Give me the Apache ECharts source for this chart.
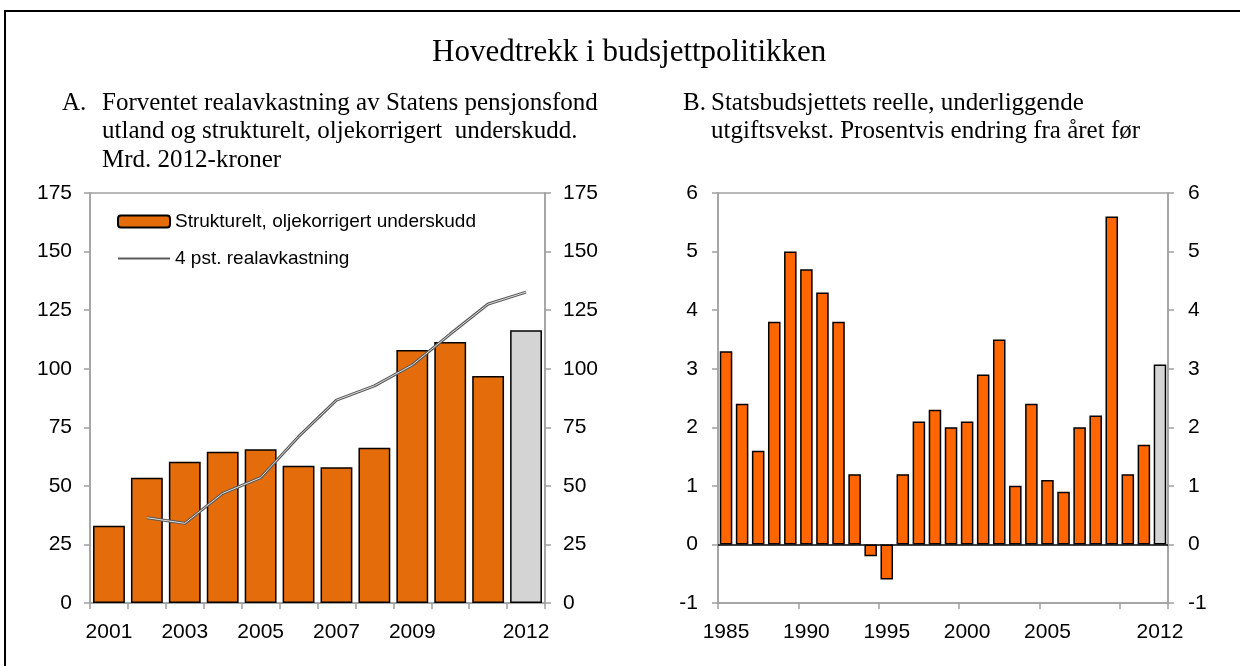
<!DOCTYPE html>
<html>
<head>
<meta charset="utf-8">
<script src="https://cdn.jsdelivr.net/npm/echarts@6/dist/echarts.min.js"></script>
<style>
  html, body { margin: 0; padding: 0; background: #fff; }
  #chart { width: 1240px; height: 666px; }
</style>
</head>
<body>
<div id="chart"></div>
<script>
// panel A: mrd. 2012-kroner
const yearsA = ['2001', '2002', '2003', '2004', '2005', '2006', '2007', '2008', '2009', '2010', '2011', '2012']
const underskudd = [33.0, 53.5, 60.3, 64.6, 65.6, 58.6, 57.9, 66.3, 108, 111.4, 96.9, 116.4]
const realavkastning = [null, 36.4, 34.0, 46.8, 53.5, 71, 86.6, 92.7, 101.6, 114.8, 127.6, 132.7]

// panel B: prosentvis endring
const yearsB = ['1985', '1986', '1987', '1988', '1989', '1990', '1991', '1992', '1993', '1994',
  '1995', '1996', '1997', '1998', '1999', '2000', '2001', '2002', '2003', '2004',
  '2005', '2006', '2007', '2008', '2009', '2010', '2011', '2012']
const utgiftsvekst = [3.3, 2.4, 1.6, 3.8, 5.0, 4.7, 4.3, 3.8, 1.2, -0.2,
  -0.6, 1.2, 2.1, 2.3, 2.0, 2.1, 2.9, 3.5, 1.0, 2.4,
  1.1, 0.9, 2.0, 2.2, 5.6, 1.2, 1.7, 3.07]

const labelsA = [0, 2, 4, 6, 8, 11]
const labelsB = [0, 5, 10, 15, 20, 27]

const SANS = "'Liberation Sans', Arial, sans-serif"
const SERIF = "'Liberation Serif', 'Times New Roman', serif"
const AXIS = '#a0a0a0'
const GREY = '#d4d4d4'

// siste år (anslag) i grått
const markLast = (arr) => arr.map((v, i) => i === arr.length - 1 ? { value: v, itemStyle: { color: GREY } } : v)

const chart = echarts.init(document.getElementById('chart'))

const catAxis = (idx, data, labels, tickFn) => ({
  type: 'category',
  gridIndex: idx,
  data: data,
  boundaryGap: true,
  axisLine: { onZero: false, lineStyle: { color: AXIS, width: 1.5 } },
  axisTick: { show: true, length: 6, interval: tickFn, lineStyle: { color: AXIS, width: 1.5 } },
  axisLabel: {
    interval: (i) => labels.includes(i),
    margin: 19, color: '#000', fontSize: 21, fontFamily: SANS,
  },
})

const valAxis = (idx, pos, min, max, step, margin) => ({
  type: 'value',
  gridIndex: idx,
  position: pos,
  min: min, max: max, interval: step,
  splitLine: { show: false },
  axisLine: { show: true, lineStyle: { color: AXIS, width: 1.5 } },
  axisTick: { show: true, length: 6, lineStyle: { color: AXIS, width: 1.5 } },
  axisLabel: { color: '#000', fontSize: 21, fontFamily: SANS, margin: margin },
})

const sub = { fontFamily: SERIF, fontSize: 25, fontWeight: 'normal', color: '#000', lineHeight: 28.5 }

chart.setOption({
  animation: false,
  graphic: [{
    type: 'rect',
    shape: { x: 5, y: 11, width: 1260, height: 680 },
    style: { fill: 'none', stroke: '#000', lineWidth: 2 },
    silent: true,
  }],
  title: [
    { text: 'Hovedtrekk i budsjettpolitikken', left: 427, top: 32,
      textStyle: { fontFamily: SERIF, fontSize: 31, fontWeight: 'normal', color: '#000' } },
    { text: 'A.', left: 57, top: 84, textStyle: sub },
    { text: 'Forventet realavkastning av Statens pensjonsfond\nutland og strukturelt, oljekorrigert  underskudd.\nMrd. 2012-kroner',
      left: 97, top: 84, textStyle: sub },
    { text: 'B.', left: 678, top: 84, textStyle: sub },
    { text: 'Statsbudsjettets reelle, underliggende\nutgiftsvekst. Prosentvis endring fra året før',
      left: 706, top: 84, textStyle: sub },
  ],
  legend: {
    data: [
      'Strukturelt, oljekorrigert underskudd',
      { name: '4 pst. realavkastning', itemStyle: { opacity: 0 } },
    ],
    orient: 'vertical',
    left: 112, top: 207,
    itemWidth: 52, itemHeight: 12, itemGap: 18,
    textStyle: { color: '#000', fontSize: 19, fontFamily: SANS },
  },
  grid: [
    { left: 90, top: 193, width: 455, height: 410, show: true, borderColor: AXIS, borderWidth: 1.5 },
    { left: 718, top: 193, width: 450, height: 410, show: true, borderColor: AXIS, borderWidth: 1.5 },
  ],
  xAxis: [
    catAxis(0, yearsA, labelsA, 0),
    catAxis(1, yearsB, labelsB, (i) => i % 5 === 0),
  ],
  yAxis: [
    valAxis(0, 'left', 0, 175, 25, 18),
    valAxis(0, 'right', 0, 175, 25, 18),
    valAxis(1, 'left', -1, 6, 1, 20),
    valAxis(1, 'right', -1, 6, 1, 20),
  ],
  series: [
    {
      name: 'Strukturelt, oljekorrigert underskudd',
      type: 'bar', xAxisIndex: 0, yAxisIndex: 0,
      data: markLast(underskudd),
      barCategoryGap: '16%',
      itemStyle: { color: '#e46c0a', borderColor: '#000', borderWidth: 1.5 },
    },
    {
      name: '4 pst. realavkastning',
      type: 'line', xAxisIndex: 0, yAxisIndex: 0,
      data: realavkastning,
      symbol: 'none',
      lineStyle: { color: '#5a5a5a', width: 3 },
      itemStyle: { color: '#5a5a5a' },
    },
    {
      name: 'realavkastning-kjerne',
      type: 'line', xAxisIndex: 0, yAxisIndex: 0,
      data: realavkastning,
      symbol: 'none',
      lineStyle: { color: '#dcdcdc', width: 1 },
    },
    {
      name: 'Utgiftsvekst',
      type: 'bar', xAxisIndex: 1, yAxisIndex: 2,
      data: markLast(utgiftsvekst),
      barCategoryGap: '22%',
      itemStyle: { color: '#ff6600', borderColor: '#000', borderWidth: 1.5 },
      markLine: {
        silent: true, symbol: 'none', label: { show: false },
        lineStyle: { color: '#000', width: 1.5, type: 'solid' },
        data: [{ yAxis: 0 }],
      },
    },
  ],
})
</script>
</body>
</html>
